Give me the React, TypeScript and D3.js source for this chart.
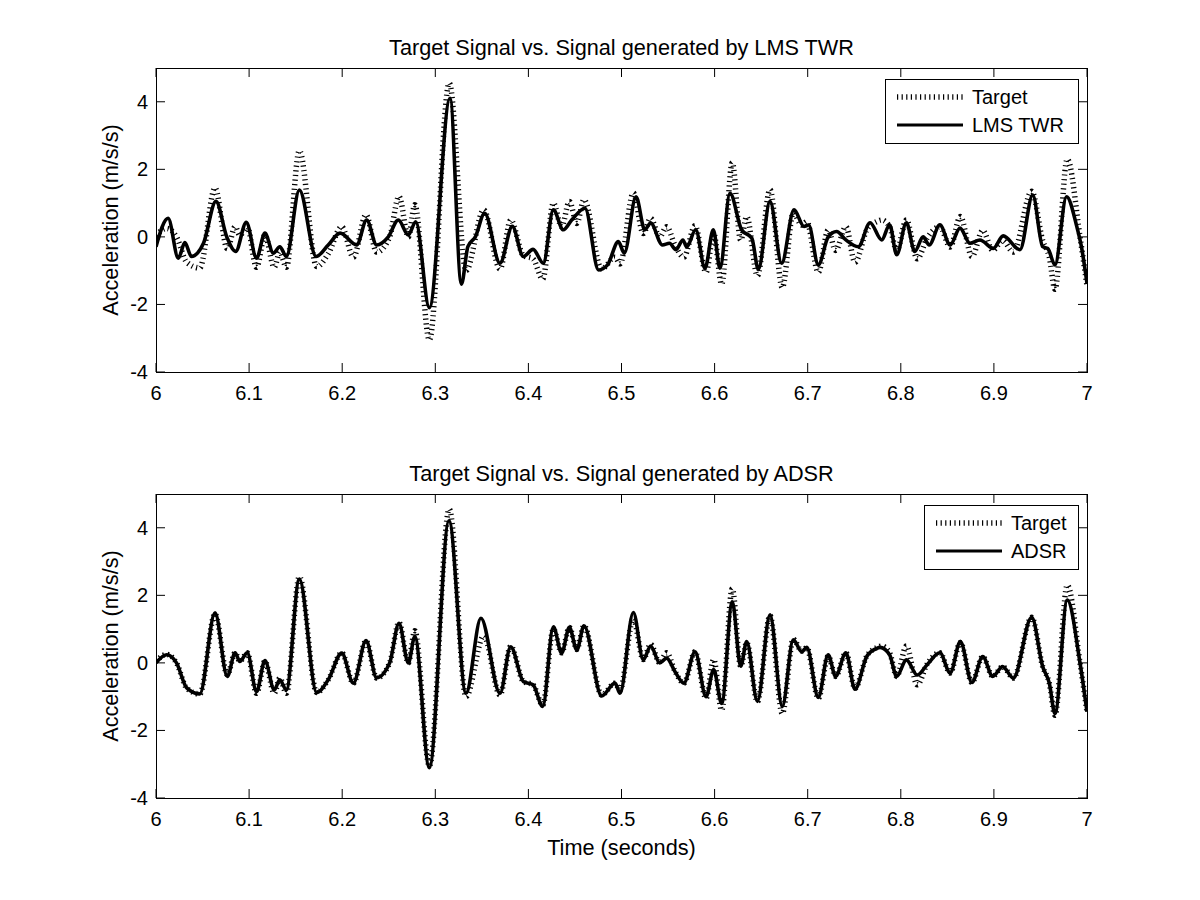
import React from "react";
import * as d3 from "d3";

// ---------- data ----------
const targetT = [6.0, 6.0115, 6.022, 6.033, 6.047, 6.0634, 6.0766, 6.085, 6.09, 6.098, 6.108, 6.117, 6.127, 6.133, 6.14, 6.154, 6.1726, 6.185, 6.1995, 6.212, 6.2256, 6.237, 6.251, 6.261, 6.271, 6.278, 6.2936, 6.315, 6.333, 6.352, 6.3695, 6.381, 6.3945, 6.405, 6.4154, 6.4268, 6.4357, 6.444, 6.452, 6.4597, 6.4787, 6.493, 6.4984, 6.5127, 6.5234, 6.5313, 6.541, 6.5485, 6.5575, 6.567, 6.579, 6.5908, 6.599, 6.6076, 6.619, 6.628, 6.6345, 6.646, 6.6595, 6.6727, 6.6845, 6.6936, 6.699, 6.7114, 6.722, 6.73, 6.741, 6.7508, 6.7634, 6.774, 6.7795, 6.788, 6.7956, 6.806, 6.8177, 6.828, 6.842, 6.853, 6.864, 6.8764, 6.888, 6.8987, 6.9094, 6.9209, 6.9406, 6.9524, 6.9595, 6.9656, 6.9788, 6.9925, 7.0];
const targetV = [0.05, 0.25, 0.0, -0.75, -0.92, 1.45, -0.35, 0.3, 0.05, 0.3, -0.9, 0.05, -0.9, -0.45, -0.9, 2.55, -0.88, -0.5, 0.3, -0.6, 0.65, -0.45, 0.0, 1.2, 0.0, 0.95, -3.05, 4.55, -1.0, 0.8, -0.95, 0.5, -0.55, -0.65, -1.25, 1.0, 0.3, 1.05, 0.4, 1.1, -0.95, -0.6, -0.8, 1.3, 0.1, 0.55, 0.0, 0.3, -0.25, -0.6, 0.33, -1.05, 0.1, -1.4, 2.2, -0.1, 0.6, -1.15, 1.4, -1.5, 0.7, 0.35, 0.45, -1.05, 0.2, -0.4, 0.3, -0.75, 0.2, 0.45, 0.5, 0.3, -0.4, 0.5, -0.65, -0.05, 0.3, -0.3, 0.6, -0.58, 0.19, -0.4, -0.11, -0.45, 1.35, -0.11, -0.6, -1.55, 2.3, 0.0, -1.45];

const lmsT = [6.0, 6.013, 6.024, 6.031, 6.038, 6.051, 6.0644, 6.076, 6.0856, 6.097, 6.108, 6.117, 6.126, 6.133, 6.14, 6.154, 6.172, 6.185, 6.1977, 6.2155, 6.2263, 6.237, 6.2495, 6.2603, 6.271, 6.279, 6.2936, 6.3158, 6.328, 6.335, 6.343, 6.353, 6.3695, 6.3827, 6.3945, 6.405, 6.416, 6.4268, 6.4375, 6.4465, 6.4608, 6.4754, 6.485, 6.4966, 6.503, 6.5156, 6.525, 6.5313, 6.544, 6.5515, 6.5585, 6.566, 6.57, 6.5797, 6.5897, 6.5986, 6.6058, 6.6165, 6.629, 6.64, 6.647, 6.6595, 6.672, 6.6853, 6.696, 6.701, 6.7114, 6.722, 6.731, 6.741, 6.7544, 6.767, 6.7795, 6.788, 6.7956, 6.806, 6.815, 6.824, 6.8305, 6.842, 6.853, 6.8636, 6.8743, 6.885, 6.8994, 6.91, 6.928, 6.9417, 6.9524, 6.958, 6.9656, 6.978, 6.989, 6.994, 7.0];
const lmsV = [-0.29, 0.55, -0.63, -0.17, -0.58, -0.19, 1.05, 0.0, -0.43, 0.43, -0.63, 0.11, -0.48, -0.29, -0.58, 1.39, -0.58, -0.24, 0.11, -0.24, 0.5, -0.24, 0.0, 0.5, 0.06, 0.45, -2.1, 4.1, -1.4, -0.29, 0.0, 0.7, -0.78, 0.31, -0.58, -0.37, -0.78, 0.8, 0.21, 0.5, 0.85, -0.98, -0.83, -0.14, -0.48, 1.19, 0.21, 0.41, -0.24, -0.19, -0.38, -0.09, -0.3, 0.21, -0.93, 0.21, -0.93, 1.29, 0.21, -0.04, -0.96, 1.05, -0.78, 0.8, 0.31, 0.35, -0.83, 0.0, 0.16, -0.09, -0.29, 0.42, -0.09, 0.36, -0.53, 0.42, -0.43, 0.0, -0.24, 0.36, -0.24, 0.26, -0.19, -0.09, -0.34, 0.03, -0.38, 1.24, -0.29, -0.35, -0.83, 1.19, 0.31, -0.29, -1.37];

const adsrT = [6.0, 6.0115, 6.022, 6.033, 6.047, 6.0634, 6.0766, 6.085, 6.09, 6.098, 6.108, 6.117, 6.127, 6.133, 6.14, 6.154, 6.1726, 6.185, 6.1995, 6.212, 6.2256, 6.237, 6.251, 6.261, 6.271, 6.278, 6.2936, 6.3147, 6.333, 6.349, 6.3695, 6.381, 6.3945, 6.405, 6.4154, 6.4268, 6.4357, 6.444, 6.452, 6.4597, 6.4787, 6.493, 6.4984, 6.5127, 6.5234, 6.5313, 6.541, 6.5485, 6.5575, 6.567, 6.579, 6.5908, 6.599, 6.6076, 6.619, 6.628, 6.6345, 6.646, 6.6595, 6.6727, 6.6845, 6.6936, 6.699, 6.7114, 6.722, 6.73, 6.741, 6.7508, 6.7634, 6.774, 6.7777, 6.788, 6.7956, 6.806, 6.8177, 6.828, 6.842, 6.853, 6.864, 6.8764, 6.888, 6.8987, 6.9094, 6.9209, 6.9406, 6.9524, 6.9595, 6.9656, 6.9788, 6.9925, 7.0];
const adsrV = [0.0, 0.24, 0.0, -0.74, -0.92, 1.48, -0.4, 0.3, 0.04, 0.3, -0.85, 0.07, -0.8, -0.5, -0.8, 2.48, -0.88, -0.5, 0.29, -0.6, 0.66, -0.44, 0.0, 1.17, 0.0, 0.78, -3.1, 4.21, -0.9, 1.32, -0.9, 0.48, -0.55, -0.65, -1.29, 1.07, 0.29, 1.05, 0.38, 1.1, -0.98, -0.6, -0.9, 1.49, 0.09, 0.5, 0.0, 0.14, -0.26, -0.6, 0.33, -1.0, -0.2, -1.2, 1.81, -0.1, 0.63, -1.14, 1.42, -1.29, 0.68, 0.33, 0.46, -1.02, 0.24, -0.4, 0.3, -0.78, 0.19, 0.43, 0.46, 0.24, -0.4, 0.09, -0.36, -0.06, 0.3, -0.3, 0.63, -0.58, 0.19, -0.4, -0.11, -0.45, 1.35, -0.11, -0.6, -1.5, 1.86, 0.0, -1.45];

const xTicks = [6, 6.1, 6.2, 6.3, 6.4, 6.5, 6.6, 6.7, 6.8, 6.9, 7];
const xTickLabels = ["6", "6.1", "6.2", "6.3", "6.4", "6.5", "6.6", "6.7", "6.8", "6.9", "7"];
const yTicks = [-4, -2, 0, 2, 4];
const yTickLabels = ["-4", "-2", "0", "2", "4"];

const titles = ["Target Signal vs. Signal generated by LMS TWR", "Target Signal vs. Signal generated by ADSR"];
const legendNames = [["Target", "LMS TWR"], ["Target", "ADSR"]];
const yLabel = "Acceleration (m/s/s)";
const xLabel = "Time (seconds)";

const FONT = "'Liberation Sans', Arial, Helvetica, sans-serif";
const FS = 20;
const FS_LABEL = 21.7;

type PanelProps = {
  top: number;
  bottom: number;
  title: string;
  names: string[];
  solidT: number[];
  solidV: number[];
  legendLeft: number;
  legendTop: number;
  legendBottom: number;
  clipId: string;
};

const X0 = 156;
const X1 = 1087;

function Panel(p: PanelProps) {
  const x = d3.scaleLinear().domain([6, 7]).range([X0, X1]);
  const y = d3.scaleLinear().domain([-4, 5]).range([p.bottom, p.top]);
  const line = d3
    .line<[number, number]>()
    .x((d) => x(d[0]))
    .y((d) => y(d[1]))
    .curve(d3.curveMonotoneX);
  const tgt = line(targetT.map((t, i) => [t, targetV[i]] as [number, number])) || "";
  const sol = line(p.solidT.map((t, i) => [t, p.solidV[i]] as [number, number])) || "";
  const tl = 9;
  const lx0 = p.legendLeft + 12;
  const lx1 = p.legendLeft + 78;
  const row1 = p.legendTop + 18;
  const row2 = p.legendTop + 46;
  return (
    <g>
      <defs>
        <clipPath id={p.clipId}>
          <rect x={X0} y={p.top} width={X1 - X0} height={p.bottom - p.top} />
        </clipPath>
      </defs>
      <rect x={X0} y={p.top} width={X1 - X0} height={p.bottom - p.top} fill="#fff" />
      <g clipPath={`url(#${p.clipId})`}>
        <path d={tgt} fill="none" stroke="#000" strokeWidth={5.5} strokeDasharray="1.2 3.4" />
        <path d={sol} fill="none" stroke="#000" strokeWidth={3.6} strokeLinejoin="round" />
      </g>
      {/* frame */}
      <rect x={X0 + 0.5} y={p.top + 0.5} width={X1 - X0} height={p.bottom - p.top} fill="none" stroke="#000" strokeWidth={1} />
      {/* x ticks */}
      {xTicks.map((t, i) => (
        <g key={"xt" + i}>
          <line x1={x(t)} x2={x(t)} y1={p.bottom} y2={p.bottom - tl} stroke="#000" />
          <line x1={x(t)} x2={x(t)} y1={p.top} y2={p.top + tl} stroke="#000" />
          <text x={x(t)} y={p.bottom + 28} textAnchor="middle" fontFamily={FONT} fontSize={FS}>
            {xTickLabels[i]}
          </text>
        </g>
      ))}
      {yTicks.map((t, i) => (
        <g key={"yt" + i}>
          <line x1={X0} x2={X0 + tl} y1={y(t)} y2={y(t)} stroke="#000" />
          <line x1={X1} x2={X1 - tl} y1={y(t)} y2={y(t)} stroke="#000" />
          <text x={X0 - 8} y={y(t) + 7} textAnchor="end" fontFamily={FONT} fontSize={FS}>
            {yTickLabels[i]}
          </text>
        </g>
      ))}
      <text x={(X0 + X1) / 2} y={p.top - 13} textAnchor="middle" fontFamily={FONT} fontSize={FS_LABEL}>
        {p.title}
      </text>
      <text
        transform={`translate(118,${(p.top + p.bottom) / 2}) rotate(-90)`}
        textAnchor="middle"
        fontFamily={FONT}
        fontSize={FS_LABEL}
      >
        {yLabel}
      </text>
      {/* legend */}
      <rect
        x={p.legendLeft + 0.5}
        y={p.legendTop + 0.5}
        width={1078 - p.legendLeft}
        height={p.legendBottom - p.legendTop}
        fill="#fff"
        stroke="#000"
      />
      <line x1={lx0} x2={lx1} y1={row1} y2={row1} stroke="#000" strokeWidth={5.5} strokeDasharray="1.2 3.4" />
      <line x1={lx0} x2={lx1} y1={row2} y2={row2} stroke="#000" strokeWidth={3.2} />
      <text x={lx1 + 9} y={row1 + 7} fontFamily={FONT} fontSize={FS}>
        {p.names[0]}
      </text>
      <text x={lx1 + 9} y={row2 + 7} fontFamily={FONT} fontSize={FS}>
        {p.names[1]}
      </text>
    </g>
  );
}

export default function App() {
  return (
    <svg
      width={1200}
      height={900}
      style={{ position: "absolute", left: 0, top: 0, background: "#fff" }}
    >
      <rect x={0} y={0} width={1200} height={900} fill="#fff" />
      <Panel
        top={68}
        bottom={372}
        title={titles[0]}
        names={legendNames[0]}
        solidT={lmsT}
        solidV={lmsV}
        legendLeft={885}
        legendTop={79}
        legendBottom={143}
        clipId="c1"
      />
      <Panel
        top={494}
        bottom={798}
        title={titles[1]}
        names={legendNames[1]}
        solidT={adsrT}
        solidV={adsrV}
        legendLeft={924}
        legendTop={505}
        legendBottom={569}
        clipId="c2"
      />
      <text x={(X0 + X1) / 2} y={855} textAnchor="middle" fontFamily={FONT} fontSize={FS_LABEL}>
        {xLabel}
      </text>
    </svg>
  );
}
